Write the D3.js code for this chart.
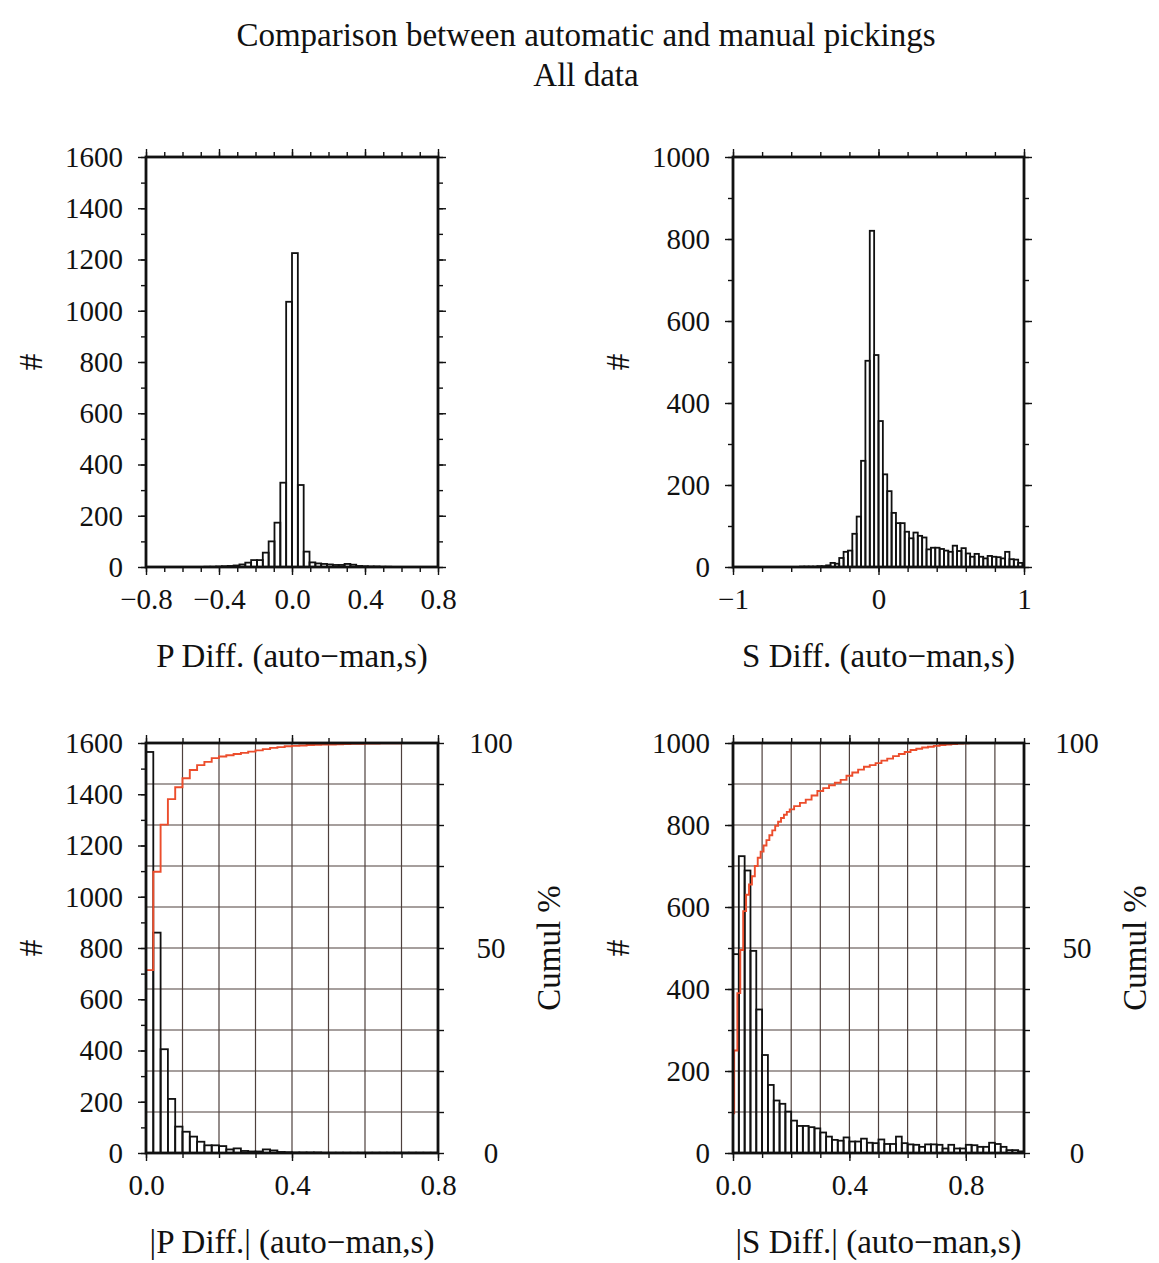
<!DOCTYPE html>
<html>
<head>
<meta charset="utf-8">
<script src="https://cdn.jsdelivr.net/npm/d3@7"></script>
<style>
  body { margin: 0; background: #fff; }
  text { font-family: "Liberation Serif", "Times New Roman", serif; fill: #111; }
</style>
</head>
<body>
<script>
// page size
const width = 1159;
const height = 1263;

// titles
const title1 = "Comparison between automatic and manual pickings";
const title2 = "All data";

// P difference histogram (auto - man), bins of 0.032 from -0.8
const pDiffStart = -0.8;
const pDiffBin = 0.032;
const pDiffCounts = [0, 0, 0, 0, 0, 0, 0, 0, 0, 0,
  1, 1, 2, 3, 4, 6, 10, 17, 27, 27,
  56, 100, 173, 329, 1035, 1225, 320, 60, 18, 14,
  12, 10, 8, 8, 12, 9, 4, 3, 2, 2,
  1, 1, 0, 0, 0, 0, 0, 0, 0, 0];

// S difference histogram, bins of 0.03 from -0.99
const sDiffStart = -0.99;
const sDiffBin = 0.03;
const sDiffCounts = [0, 0, 0, 0, 0, 0, 0, 0, 0, 0, 0, 0, 0,
  0, 0, 1, 1, 1, 1, 2, 2, 4, 10, 8, 22, 37, 40, 81, 123, 259, 503, 820, 517,
  356, 226, 185, 132, 107, 107, 86, 70, 84, 76, 72, 43, 47, 47, 44, 40, 37,
  52, 39, 46, 33, 25, 32, 25, 21, 27, 25, 24, 21, 37, 19, 18, 10, 8];

// |P diff| histogram, bins of 0.02 from 0
const pAbsBin = 0.02;
const pAbsCounts = [1565, 860, 405, 211, 103, 83, 64, 44, 30, 30,
  27, 14, 18, 8, 6, 6, 14, 10, 4, 3,
  2, 2, 2, 2, 1, 1, 1, 1, 1, 1,
  1, 1, 1, 1, 1, 1, 1, 1, 1, 1];

// |S diff| histogram, bins of 0.02 from 0
const sAbsBin = 0.02;
const sAbsCounts = [485, 724, 689, 493, 350, 239, 166, 128, 120, 101,
  79, 66, 66, 63, 60, 50, 40, 32, 30, 38,
  28, 28, 35, 25, 24, 33, 22, 22, 40, 24,
  21, 20, 15, 21, 21, 20, 11, 20, 11, 11,
  20, 19, 15, 15, 25, 22, 15, 7, 7, 4];

// cumulative percentages (step starts)
const pCumX = [0, 0.02, 0.04, 0.06, 0.08, 0.10, 0.12, 0.14, 0.16, 0.18,
  0.20, 0.22, 0.24, 0.26, 0.28, 0.30, 0.32, 0.34, 0.36, 0.38,
  0.40, 0.42, 0.44, 0.46, 0.48, 0.50, 0.52, 0.54, 0.56, 0.58,
  0.60, 0.62, 0.64, 0.66, 0.68, 0.70, 0.72, 0.74, 0.76, 0.78, 0.80];
const pCumPct = [44.6, 68.6, 80.1, 86.3, 89.2, 91.4, 93.4, 94.6, 95.4, 96.3,
  96.7, 97.0, 97.3, 97.6, 97.9, 98.2, 98.5, 98.8, 99.0, 99.2,
  99.3, 99.4, 99.5, 99.55, 99.6, 99.65, 99.7, 99.75, 99.8, 99.82,
  99.85, 99.88, 99.9, 99.92, 99.94, 99.96, 99.97, 99.98, 99.99, 100, 100];

const sCumX = [0, 0.004, 0.015, 0.025, 0.035, 0.045, 0.055, 0.065, 0.075, 0.085,
  0.095, 0.105, 0.115, 0.125, 0.135, 0.145, 0.155, 0.165, 0.175, 0.185,
  0.195, 0.21, 0.23, 0.25, 0.27, 0.29, 0.31, 0.33, 0.35, 0.37,
  0.39, 0.41, 0.43, 0.45, 0.47, 0.49, 0.51, 0.53, 0.55, 0.57,
  0.59, 0.61, 0.63, 0.65, 0.67, 0.69, 0.71, 0.73, 0.75, 0.77,
  0.79, 0.81, 1.0];
const sCumPct = [9.7, 25, 39, 49.5, 59, 63, 65.5, 67.5, 70, 72,
  73.5, 75, 76.3, 77.5, 78.7, 79.8, 80.8, 81.7, 82.5, 83.2,
  83.8, 84.6, 85.4, 86.2, 87.2, 88.3, 89, 89.7, 90.3, 91,
  92, 92.8, 93.5, 94.2, 94.6, 95.1, 95.7, 96.2, 96.8, 97.3,
  97.8, 98.3, 98.6, 98.9, 99.1, 99.3, 99.5, 99.6, 99.75, 99.85,
  99.95, 100, 100];

// axis labels
const yTitle = "#";
const cumTitle = "Cumul %";
const xTitles = ["P Diff. (auto\u2212man,s)", "S Diff. (auto\u2212man,s)",
  "|P Diff.| (auto\u2212man,s)", "|S Diff.| (auto\u2212man,s)"];

const fontTick = 29;
const fontTitle = 33;
const red = "#ec4d2c";
const gridColor = "#4e403d";

var svg = d3.select("body").append("svg")
  .attr("width", width)
  .attr("height", height);

svg.append("rect").attr("width", width).attr("height", height).attr("fill", "#fff");

svg.append("text").attr("x", 586).attr("y", 46).attr("text-anchor", "middle")
  .style("font-size", fontTitle + "px").text(title1);
svg.append("text").attr("x", 586).attr("y", 86).attr("text-anchor", "middle")
  .style("font-size", fontTitle + "px").text(title2);

/*
draws one panel: histogram bars, optional grid + cumulative curve
*/
function drawPanel(p) {
  var g = svg.append("g").attr("transform", "translate(" + p.left + "," + p.top + ")");
  var w = p.w, h = p.h;

  var x = d3.scaleLinear().domain(p.xDomain).range([0, w]);
  var y = d3.scaleLinear().domain(p.yDomain).range([h, 0]);

  var clipId = "clip" + p.id;
  g.append("clipPath").attr("id", clipId)
    .append("rect").attr("width", w).attr("height", h);

  // grid (bottom panels only)
  if (p.cum) {
    var yc = d3.scaleLinear().domain([0, 100]).range([h, 0]);
    g.append("g").selectAll("line")
      .data(d3.range(p.xDomain[0] + p.minor, p.xDomain[1] - 1e-9, p.minor))
      .enter().append("line")
      .attr("x1", d => x(d)).attr("x2", d => x(d))
      .attr("y1", 0).attr("y2", h)
      .attr("stroke", gridColor).attr("stroke-width", 1.2);
    g.append("g").selectAll("line")
      .data(d3.range(10, 100, 10))
      .enter().append("line")
      .attr("x1", 0).attr("x2", w)
      .attr("y1", d => yc(d)).attr("y2", d => yc(d))
      .attr("stroke", gridColor).attr("stroke-width", 1.2);
  }

  // histogram bars
  var bars = p.counts.map((c, i) => ({ x0: p.start + i * p.bin, x1: p.start + (i + 1) * p.bin, c: c }))
    .filter(d => d.c > 0);
  g.append("g").attr("clip-path", "url(#" + clipId + ")")
    .selectAll("rect").data(bars).enter().append("rect")
    .attr("x", d => x(d.x0))
    .attr("width", d => x(d.x1) - x(d.x0))
    .attr("y", d => y(d.c))
    .attr("height", d => y(0) - y(d.c))
    .attr("fill", "none")
    .attr("stroke", "#111")
    .attr("stroke-width", 1.8);

  // cumulative curve
  if (p.cum) {
    var pts = p.cumX.map((v, i) => [v, p.cumPct[i]]);
    var line = d3.line().x(d => x(d[0])).y(d => yc(d[1])).curve(d3.curveStepAfter);
    g.append("path").datum(pts)
      .attr("d", line)
      .attr("fill", "none")
      .attr("stroke", red)
      .attr("stroke-width", 1.9)
      .attr("clip-path", "url(#" + clipId + ")");
  }

  // ticks: minor then major, on all four sides (outward)
  function tickAxes(axisFn, scale, values, size, tr, labels, fmt, pad) {
    var a = axisFn(scale).tickValues(values).tickSize(size).tickSizeOuter(0);
    if (labels) a.tickFormat(fmt).tickPadding(pad); else a.tickFormat("");
    var ag = g.append("g").attr("transform", tr).call(a);
    ag.select(".domain").remove();
    ag.selectAll("line").attr("stroke", "#111").attr("stroke-width", 1.4);
    ag.selectAll("text").style("font-size", fontTick + "px")
      .style("font-family", "Liberation Serif, serif").attr("fill", "#111");
    return ag;
  }

  var xMinor = d3.range(p.xDomain[0], p.xDomain[1] + 1e-9, p.minor);
  var yMinor = d3.range(p.yDomain[0], p.yDomain[1] + 1e-9, p.yMinor);
  tickAxes(d3.axisBottom, x, xMinor, 5, "translate(0," + h + ")", false);
  tickAxes(d3.axisTop, x, xMinor, 5, "translate(0,0)", false);
  tickAxes(d3.axisLeft, y, yMinor, 5, "translate(0,0)", false);
  tickAxes(d3.axisBottom, x, p.xMajor, 8, "translate(0," + h + ")", true, p.xFmt, 13);
  tickAxes(d3.axisTop, x, p.xMajor, 8, "translate(0,0)", false);
  tickAxes(d3.axisLeft, y, p.yMajor, 8, "translate(0,0)", true, d3.format("d"), 15);

  if (p.cum) {
    var ycTicks = d3.range(0, 101, 10);
    tickAxes(d3.axisRight, yc, ycTicks, 6, "translate(" + w + ",0)", false);
    // right labels are centred
    g.append("g").selectAll("text").data([0, 50, 100]).enter().append("text")
      .attr("x", w + 53).attr("y", d => yc(d)).attr("dy", "0.35em")
      .attr("text-anchor", "middle")
      .style("font-size", fontTick + "px").text(d => d);
    g.append("text")
      .attr("transform", "translate(" + (w + 110) + "," + (h / 2) + ") rotate(-90)")
      .attr("text-anchor", "middle").attr("dy", "0.35em")
      .style("font-size", fontTitle + "px").text(cumTitle);
  } else {
    tickAxes(d3.axisRight, y, yMinor, 5, "translate(" + w + ",0)", false);
    tickAxes(d3.axisRight, y, p.yMajor, 8, "translate(" + w + ",0)", false);
  }

  // frame
  g.append("rect").attr("width", w).attr("height", h)
    .attr("fill", "none").attr("stroke", "#111").attr("stroke-width", 2.8);

  // axis titles
  g.append("text")
    .attr("transform", "translate(" + (-116) + "," + (h / 2) + ") rotate(-90)")
    .attr("text-anchor", "middle").attr("dy", "0.35em")
    .style("font-size", fontTitle + "px").text(yTitle);
  g.append("text")
    .attr("x", w / 2).attr("y", h + 88).attr("dy", "0.35em")
    .attr("text-anchor", "middle")
    .style("font-size", fontTitle + "px").text(p.xTitle);
}

var panels = [
  { id: 1, left: 146, top: 157, w: 292, h: 410, xDomain: [-0.8, 0.8], yDomain: [0, 1600],
    start: pDiffStart, bin: pDiffBin, counts: pDiffCounts, minor: 0.1, yMinor: 100,
    xMajor: [-0.8, -0.4, 0, 0.4, 0.8], yMajor: d3.range(0, 1601, 200),
    xFmt: d3.format(".1f"), xTitle: xTitles[0], cum: false },
  { id: 2, left: 733, top: 157, w: 291, h: 410, xDomain: [-1, 1], yDomain: [0, 1000],
    start: sDiffStart, bin: sDiffBin, counts: sDiffCounts, minor: 0.2, yMinor: 100,
    xMajor: [-1, 0, 1], yMajor: d3.range(0, 1001, 200),
    xFmt: d3.format("d"), xTitle: xTitles[1], cum: false },
  { id: 3, left: 146, top: 743, w: 292, h: 410, xDomain: [0, 0.8], yDomain: [0, 1600],
    start: 0, bin: pAbsBin, counts: pAbsCounts, minor: 0.1, yMinor: 100,
    xMajor: [0, 0.4, 0.8], yMajor: d3.range(0, 1601, 200),
    xFmt: d3.format(".1f"), xTitle: xTitles[2], cum: true, cumX: pCumX, cumPct: pCumPct },
  { id: 4, left: 733, top: 743, w: 291, h: 410, xDomain: [0, 1], yDomain: [0, 1000],
    start: 0, bin: sAbsBin, counts: sAbsCounts, minor: 0.1, yMinor: 100,
    xMajor: [0, 0.4, 0.8], yMajor: d3.range(0, 1001, 200),
    xFmt: d3.format(".1f"), xTitle: xTitles[3], cum: true, cumX: sCumX, cumPct: sCumPct }
];

panels.forEach(drawPanel);
</script>
</body>
</html>
